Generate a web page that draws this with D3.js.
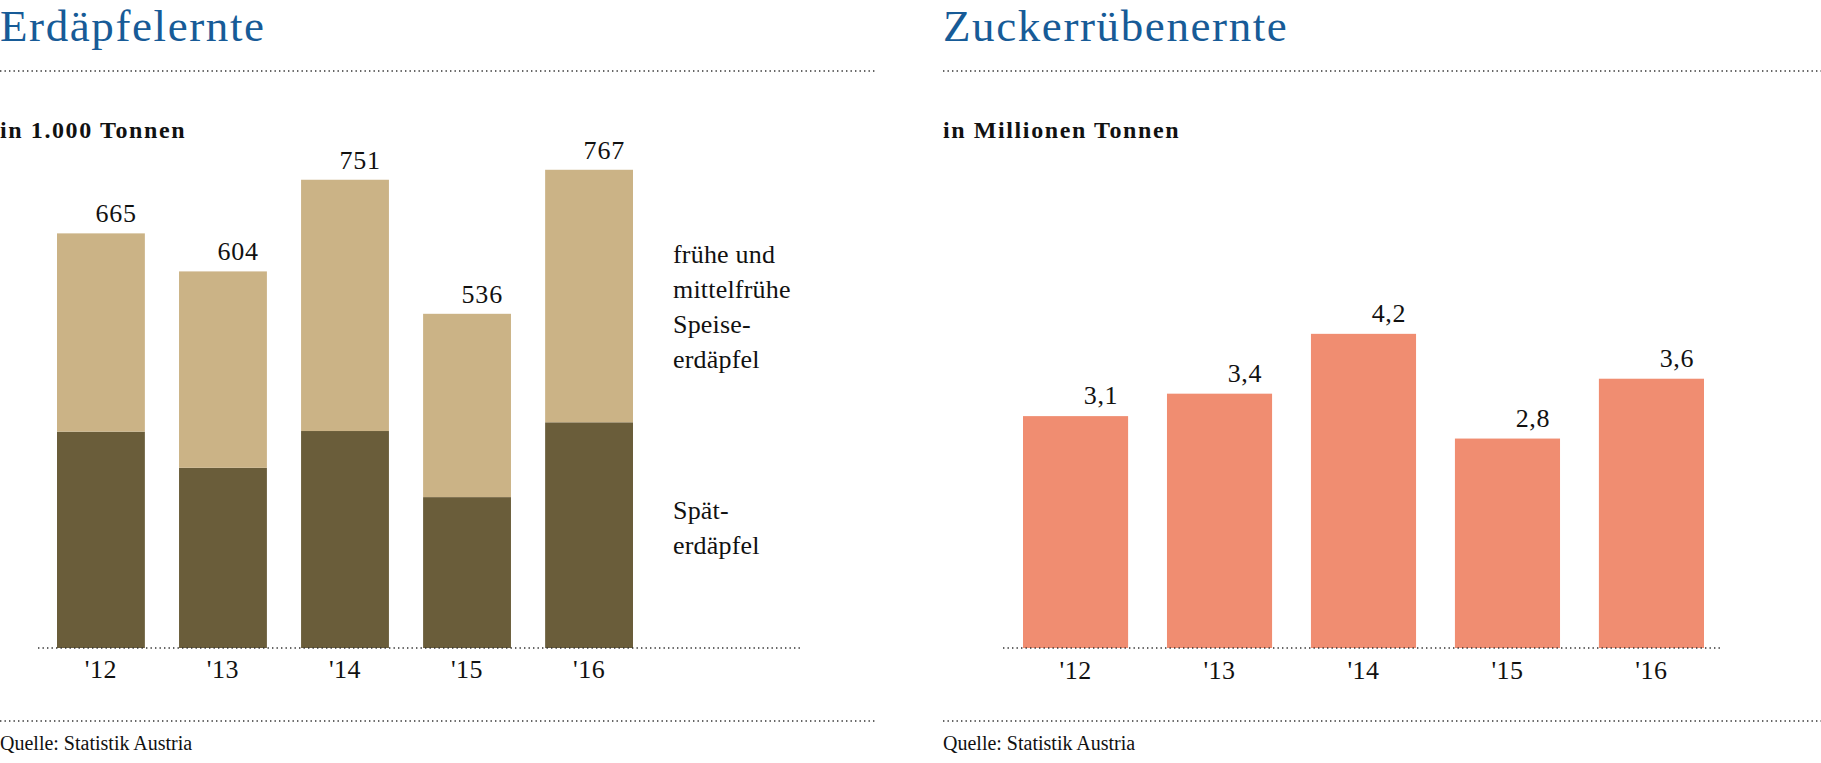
<!DOCTYPE html>
<html>
<head>
<meta charset="utf-8">
<script src="https://cdn.jsdelivr.net/npm/d3@7"></script>
<style>
  html, body { margin: 0; padding: 0; background: #fff; }
  svg { display: block; }
  text { font-family: "Liberation Serif", "Times New Roman", serif; fill: #111; }
</style>
</head>
<body>
<svg id="chart" width="1821" height="763"></svg>
<script>
// ---- data ----
const years = ["'12", "'13", "'14", "'15", "'16"];
const lateVals = [347, 289, 348, 242, 362];     // Späterdäpfel
const earlyVals = [318, 315, 403, 294, 405];    // frühe und mittelfrühe Speiseerdäpfel
const sugarVals = [3.1, 3.4, 4.2, 2.8, 3.6];    // Zuckerrüben, Mio. t

const titleLeft = "Erdäpfelernte";
const titleRight = "Zuckerrübenernte";
const unitLeft = "in 1.000 Tonnen";
const unitRight = "in Millionen Tonnen";
const source = "Quelle: Statistik Austria";
const legendEarly = ["frühe und", "mittelfrühe", "Speise-", "erdäpfel"];
const legendLate = ["Spät-", "erdäpfel"];

// ---- styles ----
const C = {
  title: "#175b97",
  early: "#cbb386",
  late: "#6a5d3a",
  sugar: "#f08d71",
  dots: "#333"
};

const svg = d3.select("#chart");
const de = d3.formatLocale({decimal: ",", thousands: ".", grouping: [3], currency: ["", " €"]});
const fmt1 = de.format(".1f");
const fmt0 = de.format("d");

const baseY = 648;

function dotted(g, x1, x2, y) {
  g.append("line")
    .attr("x1", x1).attr("x2", x2).attr("y1", y).attr("y2", y)
    .attr("stroke", C.dots).attr("stroke-width", 1.6)
    .attr("stroke-dasharray", "1.4 3.1");
}

function frame(g, x0, x1, title, unit) {
  g.append("text").attr("x", x0).attr("y", 41)
    .attr("font-size", 45).attr("letter-spacing", 1.6)
    .style("fill", C.title).text(title);
  dotted(g, x0, x1, 71);
  g.append("text").attr("x", x0).attr("y", 138)
    .attr("font-size", 24).attr("font-weight", "bold").attr("letter-spacing", 1.6)
    .text(unit);
  dotted(g, x0, x1, 721);
  g.append("text").attr("x", x0).attr("y", 750)
    .attr("font-size", 20)
    .text(source);
}

// ================= LEFT: Erdäpfelernte =================
const gL = svg.append("g");
frame(gL, 0, 875, titleLeft, unitLeft);

const xL = d3.scaleBand().domain(years).range([57, 633]).paddingInner(0.28).paddingOuter(0);
const yL = d3.scaleLinear().domain([0, 800]).range([baseY, baseY - 800 * 0.6235]);

const stackData = years.map((y, i) => ({year: y, late: lateVals[i], early: earlyVals[i]}));
const series = d3.stack().keys(["late", "early"])(stackData);

gL.append("g").selectAll("g").data(series).join("g")
  .attr("fill", d => d.key === "late" ? C.late : C.early)
  .selectAll("rect").data(d => d).join("rect")
  .attr("x", d => xL(d.data.year))
  .attr("width", xL.bandwidth())
  .attr("y", d => yL(d[1]))
  .attr("height", d => yL(d[0]) - yL(d[1]));

dotted(gL, 38, 801, baseY);

gL.append("g").selectAll("text").data(stackData).join("text")
  .attr("x", d => xL(d.year) + xL.bandwidth() - 8)
  .attr("y", d => yL(d.late + d.early) - 11)
  .attr("text-anchor", "end")
  .attr("font-size", 26).attr("letter-spacing", 0.8)
  .text(d => fmt0(d.late + d.early));

const axL = gL.append("g").attr("transform", `translate(0,${baseY})`)
  .call(d3.axisBottom(xL).tickSize(0).tickPadding(0));
axL.select(".domain").remove();
axL.selectAll("text")
  .attr("y", 30).attr("dy", 0)
  .attr("font-size", 26).attr("letter-spacing", 0.5)
  .style("font-family", "'Liberation Serif', serif").style("fill", "#111");

const legX = 673;
gL.append("g").selectAll("text").data(legendEarly).join("text")
  .attr("x", legX).attr("y", (d, i) => 263 + i * 35)
  .attr("font-size", 26).attr("letter-spacing", 0.2)
  .text(d => d);
gL.append("g").selectAll("text").data(legendLate).join("text")
  .attr("x", legX).attr("y", (d, i) => 519 + i * 35)
  .attr("font-size", 26).attr("letter-spacing", 0.2)
  .text(d => d);

// ================= RIGHT: Zuckerrübenernte =================
const gR = svg.append("g");
frame(gR, 943, 1821, titleRight, unitRight);

const xR = d3.scaleBand().domain(years).range([1023, 1704]).paddingInner(0.27).paddingOuter(0);
const yR = d3.scaleLinear().domain([0, 5]).range([baseY, baseY - 5 * 74.8]);

gR.append("g").selectAll("rect").data(sugarVals).join("rect")
  .attr("x", (d, i) => xR(years[i]))
  .attr("width", xR.bandwidth())
  .attr("y", d => yR(d))
  .attr("height", d => yR(0) - yR(d))
  .attr("fill", C.sugar);

dotted(gR, 1003, 1721, baseY);

gR.append("g").selectAll("text").data(sugarVals).join("text")
  .attr("x", (d, i) => xR(years[i]) + xR.bandwidth() - 10)
  .attr("y", d => yR(d) - 12)
  .attr("text-anchor", "end")
  .attr("font-size", 26).attr("letter-spacing", 0.6)
  .text(d => fmt1(d));

const axR = gR.append("g").attr("transform", `translate(0,${baseY})`)
  .call(d3.axisBottom(xR).tickSize(0).tickPadding(0));
axR.select(".domain").remove();
axR.selectAll("text")
  .attr("y", 31).attr("dy", 0)
  .attr("font-size", 26).attr("letter-spacing", 0.5)
  .style("font-family", "'Liberation Serif', serif").style("fill", "#111");
</script>
</body>
</html>
